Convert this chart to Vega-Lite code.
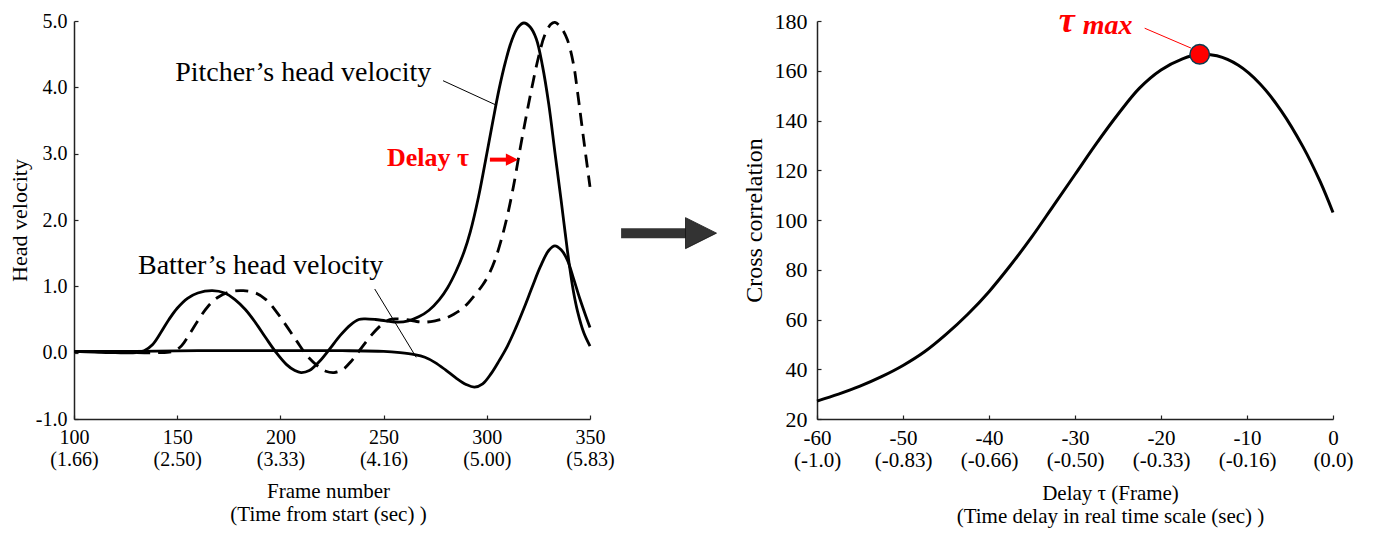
{
  "$schema": "https://vega.github.io/schema/vega-lite/v6.json",
  "background": "white",
  "padding": {"left": 8, "top": 2, "right": 5, "bottom": 5},
  "bounds": "flush",
  "spacing": 0,
  "config": {
    "font": "Liberation Serif",
    "view": {"stroke": null},
    "axis": {
      "grid": false,
      "domainColor": "#222",
      "domainWidth": 1.5,
      "tickColor": "#222",
      "tickSize": -4,
      "tickWidth": 1.2,
      "labelColor": "#000",
      "titleColor": "#000",
      "labelFont": "Liberation Serif",
      "titleFont": "Liberation Serif",
      "titleFontWeight": "normal",
      "labelOverlap": false,
      "labelFlush": false,
      "labelBound": false
    }
  },
  "datasets": {
    "pitcher": [
      {"f": 100, "v": 0.02}, {"f": 110, "v": 0.01}, {"f": 120, "v": 0.0}, {"f": 130, "v": 0.0},
      {"f": 134, "v": 0.03}, {"f": 138, "v": 0.12}, {"f": 142, "v": 0.3}, {"f": 146, "v": 0.5},
      {"f": 150, "v": 0.67}, {"f": 155, "v": 0.82}, {"f": 160, "v": 0.9}, {"f": 167, "v": 0.935},
      {"f": 173, "v": 0.9}, {"f": 178, "v": 0.8}, {"f": 183, "v": 0.65}, {"f": 188, "v": 0.45},
      {"f": 193, "v": 0.22}, {"f": 198, "v": 0.0}, {"f": 203, "v": -0.18}, {"f": 207, "v": -0.27},
      {"f": 210, "v": -0.3}, {"f": 214, "v": -0.27}, {"f": 219, "v": -0.13}, {"f": 224, "v": 0.06},
      {"f": 229, "v": 0.26}, {"f": 234, "v": 0.42}, {"f": 238, "v": 0.5}, {"f": 241, "v": 0.51},
      {"f": 246, "v": 0.5}, {"f": 251, "v": 0.48}, {"f": 257, "v": 0.46}, {"f": 262, "v": 0.48},
      {"f": 267, "v": 0.54}, {"f": 272, "v": 0.64}, {"f": 277, "v": 0.8}, {"f": 281, "v": 0.98},
      {"f": 285, "v": 1.22}, {"f": 289, "v": 1.52}, {"f": 292, "v": 1.82}, {"f": 296, "v": 2.35},
      {"f": 300, "v": 3.0}, {"f": 303, "v": 3.5}, {"f": 306, "v": 3.98}, {"f": 309, "v": 4.38},
      {"f": 312, "v": 4.7}, {"f": 315, "v": 4.9}, {"f": 318, "v": 4.97}, {"f": 321, "v": 4.91},
      {"f": 324, "v": 4.73}, {"f": 327, "v": 4.32}, {"f": 330, "v": 3.75}, {"f": 333, "v": 3.02},
      {"f": 336, "v": 2.3}, {"f": 338, "v": 1.8}, {"f": 340, "v": 1.32}, {"f": 342, "v": 0.92},
      {"f": 344, "v": 0.62}, {"f": 347, "v": 0.3}, {"f": 350, "v": 0.1}
    ],
    "delayed": [
      {"f": 100, "v": 0.02}, {"f": 120, "v": 0.01}, {"f": 140, "v": 0.0}, {"f": 148, "v": 0.02},
      {"f": 152, "v": 0.1}, {"f": 156, "v": 0.28}, {"f": 160, "v": 0.48}, {"f": 165, "v": 0.7},
      {"f": 170, "v": 0.84}, {"f": 176, "v": 0.92}, {"f": 182, "v": 0.935}, {"f": 188, "v": 0.9},
      {"f": 193, "v": 0.8}, {"f": 198, "v": 0.62}, {"f": 203, "v": 0.4}, {"f": 208, "v": 0.17},
      {"f": 213, "v": -0.05}, {"f": 218, "v": -0.2}, {"f": 222, "v": -0.28}, {"f": 226, "v": -0.3},
      {"f": 230, "v": -0.26}, {"f": 234, "v": -0.14}, {"f": 239, "v": 0.06}, {"f": 244, "v": 0.26},
      {"f": 249, "v": 0.42}, {"f": 253, "v": 0.5}, {"f": 256, "v": 0.51}, {"f": 261, "v": 0.5},
      {"f": 266, "v": 0.47}, {"f": 270, "v": 0.46}, {"f": 275, "v": 0.48}, {"f": 280, "v": 0.52},
      {"f": 284, "v": 0.58}, {"f": 288, "v": 0.66}, {"f": 291, "v": 0.75}, {"f": 294, "v": 0.86},
      {"f": 298, "v": 1.02}, {"f": 301, "v": 1.18}, {"f": 304, "v": 1.4}, {"f": 307, "v": 1.7},
      {"f": 310, "v": 2.07}, {"f": 313, "v": 2.52}, {"f": 316, "v": 3.05}, {"f": 319, "v": 3.55},
      {"f": 322, "v": 4.02}, {"f": 325, "v": 4.45}, {"f": 328, "v": 4.78}, {"f": 331, "v": 4.95},
      {"f": 333, "v": 4.98}, {"f": 336, "v": 4.9}, {"f": 339, "v": 4.72}, {"f": 342, "v": 4.35},
      {"f": 344, "v": 3.92}, {"f": 347, "v": 3.2}, {"f": 350, "v": 2.5}
    ],
    "batter": [
      {"f": 100, "v": 0.02}, {"f": 130, "v": 0.02}, {"f": 160, "v": 0.03}, {"f": 200, "v": 0.03},
      {"f": 230, "v": 0.03}, {"f": 250, "v": 0.02}, {"f": 258, "v": 0.0}, {"f": 265, "v": -0.03},
      {"f": 270, "v": -0.07}, {"f": 275, "v": -0.15}, {"f": 280, "v": -0.26}, {"f": 285, "v": -0.38},
      {"f": 290, "v": -0.48}, {"f": 294, "v": -0.52}, {"f": 298, "v": -0.47}, {"f": 302, "v": -0.32},
      {"f": 306, "v": -0.12}, {"f": 310, "v": 0.1}, {"f": 314, "v": 0.37}, {"f": 318, "v": 0.67},
      {"f": 322, "v": 0.99}, {"f": 326, "v": 1.3}, {"f": 330, "v": 1.54}, {"f": 333, "v": 1.61},
      {"f": 336, "v": 1.55}, {"f": 339, "v": 1.4}, {"f": 342, "v": 1.12}, {"f": 345, "v": 0.82},
      {"f": 348, "v": 0.55}, {"f": 350, "v": 0.38}
    ],
    "leftLeaders": [
      {"f": 278.8, "v": 4.1, "f2": 304, "v2": 3.74},
      {"f": 245.7, "v": 0.96, "f2": 265.8, "v2": -0.07}
    ],
    "leftLabels": [
      {"f": 149, "v": 4.1, "t": "Pitcher’s head velocity"},
      {"f": 131, "v": 1.19, "t": "Batter’s head velocity"}
    ],
    "delayLabel": [
      {"f": 251.6, "v": 2.82, "t": "Delay τ"}
    ],
    "delayArrow": [
      {"f": 301.5, "v": 2.91, "f2": 310, "v2": 2.91, "hf": 312.2}
    ],
    "bigArrow": [
      {"a": 1.37, "a2": 4.3, "b": 4.67, "h": 4.89}
    ],
    "corr": [
      {"d": -60, "c": 27.2}, {"d": -57.5, "c": 30}, {"d": -55, "c": 33.2}, {"d": -52.5, "c": 37},
      {"d": -50, "c": 41.5}, {"d": -47.5, "c": 47}, {"d": -45, "c": 54}, {"d": -42.5, "c": 62},
      {"d": -40, "c": 71.2}, {"d": -37.5, "c": 81.8}, {"d": -35, "c": 93.3}, {"d": -32.5, "c": 105.8},
      {"d": -30, "c": 118.3}, {"d": -27.5, "c": 130.8}, {"d": -25, "c": 142.5}, {"d": -22.5, "c": 153},
      {"d": -20, "c": 160.3}, {"d": -17.5, "c": 164.8}, {"d": -15.5, "c": 166.6}, {"d": -13.5, "c": 166},
      {"d": -11, "c": 162.2}, {"d": -8.5, "c": 154.8}, {"d": -6, "c": 143.8}, {"d": -3.5, "c": 129.5},
      {"d": -1.5, "c": 115.5}, {"d": 0, "c": 103}
    ],
    "peak": [
      {"d": -15.5, "c": 166.6}
    ],
    "peakLeader": [
      {"d": -21.9, "c": 177.1, "d2": -16.5, "c2": 169.1}
    ],
    "tauText": [
      {"d": -31.9, "c": 175.6, "t": "τ"}
    ],
    "maxText": [
      {"d": -29.1, "c": 174.8, "t": "max"}
    ]
  },
  "hconcat": [
    {
      "width": 516,
      "height": 398,
      "encoding": {
        "x": {
          "field": "f", "type": "quantitative",
          "scale": {"domain": [100, 350], "nice": false, "zero": false},
          "axis": {
            "values": [100, 150, 200, 250, 300, 350],
            "labelExpr": "[format(datum.value,'d'), datum.value==100?'(1.66)':datum.value==150?'(2.50)':datum.value==200?'(3.33)':datum.value==250?'(4.16)':datum.value==300?'(5.00)':'(5.83)']",
            "labelFontSize": 20,
            "labelLineHeight": 22,
            "labelPadding": 12,
            "title": ["Frame number", "(Time from start (sec) )"],
            "titleFontSize": 21,
            "titleLineHeight": 23,
            "titleBaseline": "alphabetic",
            "titleAlign": "center",
            "titleX": 254,
            "titleY": 78
          }
        },
        "y": {
          "field": "v", "type": "quantitative",
          "scale": {"domain": [-1, 5], "nice": false, "zero": false},
          "axis": {
            "values": [-1, 0, 1, 2, 3, 4, 5],
            "labelExpr": "datum.value < 0 ? '-' + format(-datum.value, '.1f') : format(datum.value, '.1f')",
            "labelFontSize": 20,
            "labelPadding": 11,
            "title": "Head velocity",
            "titleFontSize": 22,
            "titleAngle": -90,
            "titleBaseline": "alphabetic",
            "titleX": -48
          }
        }
      },
      "layer": [
        {
          "data": {"name": "pitcher"},
          "mark": {"type": "line", "color": "#000", "strokeWidth": 2.8, "interpolate": "catmull-rom"}
        },
        {
          "data": {"name": "delayed"},
          "mark": {"type": "line", "color": "#000", "strokeWidth": 2.8, "interpolate": "catmull-rom", "strokeDash": [13, 8]}
        },
        {
          "data": {"name": "batter"},
          "mark": {"type": "line", "color": "#000", "strokeWidth": 2.8, "interpolate": "catmull-rom"}
        },
        {
          "data": {"name": "leftLeaders"},
          "mark": {"type": "rule", "color": "#000", "strokeWidth": 1},
          "encoding": {"x2": {"field": "f2"}, "y2": {"field": "v2"}}
        },
        {
          "data": {"name": "leftLabels"},
          "mark": {"type": "text", "align": "left", "baseline": "alphabetic", "fontSize": 28, "color": "#000", "font": "Liberation Serif"},
          "encoding": {"text": {"field": "t"}}
        },
        {
          "data": {"name": "delayLabel"},
          "mark": {"type": "text", "align": "left", "baseline": "alphabetic", "fontSize": 26, "fontWeight": "bold", "color": "#ff0000", "font": "Liberation Serif"},
          "encoding": {"text": {"field": "t"}}
        },
        {
          "data": {"name": "delayArrow"},
          "mark": {"type": "rule", "color": "#ff0000", "strokeWidth": 4},
          "encoding": {"x2": {"field": "f2"}, "y2": {"field": "v2"}}
        },
        {
          "data": {"name": "delayArrow"},
          "mark": {"type": "point", "shape": "M-1,-1L1,0L-1,1Z", "filled": true, "color": "#ff0000", "opacity": 1, "size": 150},
          "encoding": {"x": {"field": "hf", "type": "quantitative"}}
        }
      ]
    },
    {
      "width": 227,
      "height": 398,
      "data": {"name": "bigArrow"},
      "layer": [
        {
          "mark": {"type": "rule", "color": "#333", "strokeWidth": 10},
          "encoding": {
            "x": {"field": "a", "type": "quantitative", "scale": {"domain": [0, 10], "nice": false, "zero": false}, "axis": null},
            "x2": {"field": "a2"},
            "y": {"field": "b", "type": "quantitative", "scale": {"domain": [0, 10], "nice": false, "zero": false}, "axis": null}
          }
        },
        {
          "mark": {"type": "point", "shape": "M-1,-1L1,0L-1,1Z", "filled": true, "color": "#333", "stroke": "#111", "strokeWidth": 0.8, "opacity": 1, "size": 961},
          "encoding": {
            "x": {"field": "h", "type": "quantitative"},
            "y": {"field": "b", "type": "quantitative"}
          }
        }
      ]
    },
    {
      "width": 516,
      "height": 398,
      "encoding": {
        "x": {
          "field": "d", "type": "quantitative",
          "scale": {"domain": [-60, 0], "nice": false, "zero": false},
          "axis": {
            "values": [-60, -50, -40, -30, -20, -10, 0],
            "labelExpr": "[datum.value==0?'0':'-'+format(-datum.value,'d'), datum.value==-60?'(-1.0)':datum.value==-50?'(-0.83)':datum.value==-40?'(-0.66)':datum.value==-30?'(-0.50)':datum.value==-20?'(-0.33)':datum.value==-10?'(-0.16)':'(0.0)']",
            "labelFontSize": 21,
            "labelLineHeight": 22,
            "labelPadding": 12,
            "title": ["Delay τ (Frame)", "(Time delay in real time scale (sec) )"],
            "titleFontSize": 21,
            "titleLineHeight": 23,
            "titleBaseline": "alphabetic",
            "titleAlign": "center",
            "titleX": 293,
            "titleY": 80
          }
        },
        "y": {
          "field": "c", "type": "quantitative",
          "scale": {"domain": [20, 180], "nice": false, "zero": false},
          "axis": {
            "values": [20, 40, 60, 80, 100, 120, 140, 160, 180],
            "labelFontSize": 22,
            "labelPadding": 14,
            "title": "Cross correlation",
            "titleFontSize": 24,
            "titleAngle": -90,
            "titleBaseline": "alphabetic",
            "titleX": -56
          }
        }
      },
      "layer": [
        {
          "data": {"name": "corr"},
          "mark": {"type": "line", "color": "#000", "strokeWidth": 3, "interpolate": "catmull-rom"}
        },
        {
          "data": {"name": "peakLeader"},
          "mark": {"type": "rule", "color": "#ff0000", "strokeWidth": 1},
          "encoding": {"x2": {"field": "d2"}, "y2": {"field": "c2"}}
        },
        {
          "data": {"name": "peak"},
          "mark": {"type": "point", "shape": "circle", "filled": true, "fill": "#ff0000", "stroke": "#0d3b4f", "strokeWidth": 1.5, "opacity": 1, "size": 380}
        },
        {
          "data": {"name": "tauText"},
          "mark": {"type": "text", "align": "left", "baseline": "alphabetic", "fontSize": 36, "fontWeight": "bold", "fontStyle": "italic", "color": "#ff0000", "font": "Liberation Serif"},
          "encoding": {"text": {"field": "t"}}
        },
        {
          "data": {"name": "maxText"},
          "mark": {"type": "text", "align": "left", "baseline": "alphabetic", "fontSize": 28, "fontWeight": "bold", "fontStyle": "italic", "color": "#ff0000", "font": "Liberation Serif"},
          "encoding": {"text": {"field": "t"}}
        }
      ]
    }
  ]
}
